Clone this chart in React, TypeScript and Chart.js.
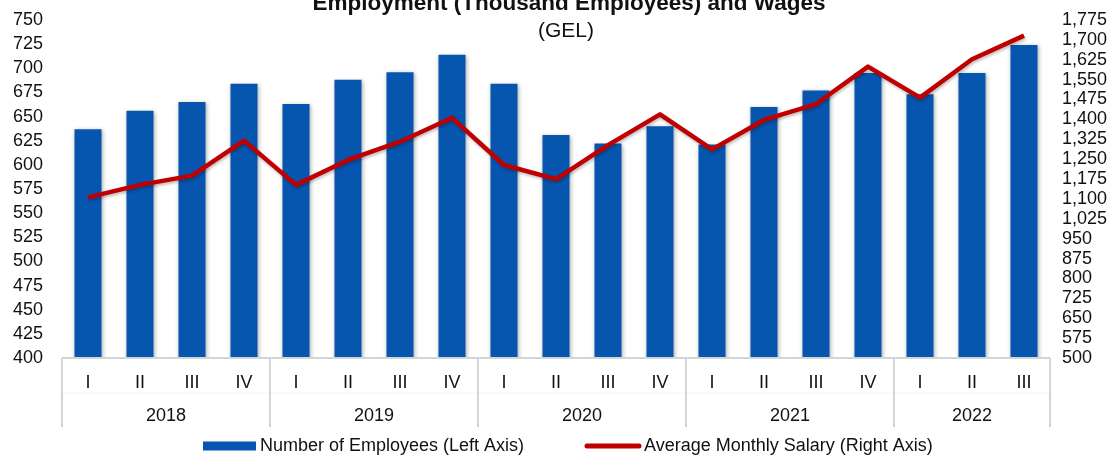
import React, { useEffect, useRef } from "react";
import { Chart, registerables } from "chart.js";

Chart.register(...registerables);

// ---- data ----
const quarterLabels = ["I", "II", "III", "IV", "I", "II", "III", "IV", "I", "II", "III", "IV", "I", "II", "III", "IV", "I", "II", "III"];
const yearLabels = ["2018", "2019", "2020", "2021", "2022"];
const quartersPerYear = [4, 4, 4, 4, 3];
const employees = [637, 656, 665, 684, 663, 688, 696, 714, 684, 631, 622, 640, 621, 660, 677, 695, 673, 695, 724];
const salary = [1106, 1153, 1188, 1320, 1153, 1247, 1316, 1406, 1228, 1175, 1303, 1419, 1287, 1398, 1458, 1599, 1482, 1627, 1716];
const leftAxis = [400, 750, 25];
const rightAxis = [500, 1775, 75];
const titleText = "Employment (Thousand Employees) and Wages";
const subtitleText = "(GEL)";
const barName = "Number of Employees (Left Axis)";
const lineName = "Average Monthly Salary (Right Axis)";

const FONT = "'Liberation Sans', Arial, sans-serif";
const BLUE = "#0656B0";
const RED = "#C00000";
const TEXT = "#111111";

export default function App() {
  const ref = useRef<HTMLCanvasElement>(null);

  useEffect(() => {
    if (!ref.current) return;

    const shadowPlugin = {
      id: "shadow",
      beforeDatasetDraw(chart: any, args: any) {
        const ctx = chart.ctx;
        ctx.save();
        if (args.meta.type === "bar") {
          ctx.shadowColor = "rgba(0,0,0,0.30)";
          ctx.shadowBlur = 4;
          ctx.shadowOffsetX = 1;
          ctx.shadowOffsetY = 1;
        } else {
          ctx.shadowColor = "rgba(0,0,0,0.25)";
          ctx.shadowBlur = 3;
          ctx.shadowOffsetX = 1;
          ctx.shadowOffsetY = 2;
        }
      },
      afterDatasetDraw(chart: any) {
        chart.ctx.restore();
      },
    };

    const decorPlugin = {
      id: "decor",
      afterDraw(chart: any) {
        const { ctx, chartArea, scales } = chart;
        const x = scales.x;
        const step = x.getPixelForValue(1) - x.getPixelForValue(0);
        const bottom = chartArea.bottom;
        const boxDepth = 69;
        ctx.save();
        // category frame
        ctx.strokeStyle = "#d4d4d4";
        ctx.lineWidth = 2;
        ctx.beginPath();
        ctx.moveTo(chartArea.left, bottom);
        ctx.lineTo(chartArea.right, bottom);
        let idx = 0;
        const bounds: number[] = [x.getPixelForValue(0) - step / 2];
        quartersPerYear.forEach((n) => {
          idx += n;
          bounds.push(x.getPixelForValue(idx - 1) + step / 2);
        });
        bounds.forEach((b) => {
          ctx.moveTo(b, bottom);
          ctx.lineTo(b, bottom + boxDepth);
        });
        ctx.stroke();
        ctx.strokeStyle = "rgba(0,0,0,0.05)";
        ctx.lineWidth = 1;
        ctx.beginPath();
        ctx.moveTo(chartArea.left, bottom + 35);
        ctx.lineTo(chartArea.right, bottom + 35);
        ctx.stroke();
        // year labels
        ctx.fillStyle = TEXT;
        ctx.font = `18px ${FONT}`;
        ctx.textAlign = "center";
        ctx.textBaseline = "middle";
        yearLabels.forEach((y, i) => {
          ctx.fillText(y, (bounds[i] + bounds[i + 1]) / 2, bottom + 58);
        });
        // title
        ctx.font = `bold 22.5px ${FONT}`;
        ctx.textBaseline = "alphabetic";
        ctx.fillText(titleText, 569, 10);
        ctx.font = `21px ${FONT}`;
        ctx.textBaseline = "middle";
        ctx.fillText(subtitleText, 566, 31);
        // legend
        const ly = 446;
        ctx.fillStyle = BLUE;
        ctx.fillRect(203, ly - 4.5, 53, 9);
        ctx.fillStyle = TEXT;
        ctx.font = `18px ${FONT}`;
        ctx.textAlign = "left";
        ctx.fillText(barName, 260, ly);
        ctx.strokeStyle = RED;
        ctx.lineWidth = 5;
        ctx.lineCap = "round";
        ctx.beginPath();
        ctx.moveTo(587, ly);
        ctx.lineTo(639, ly);
        ctx.stroke();
        ctx.fillText(lineName, 644, ly);
        ctx.restore();
      },
    };

    const noVPad = (scale: any, width: number) => {
      scale.width = width;
      scale.paddingTop = 0;
      scale.paddingBottom = 0;
    };

    const chart = new Chart(ref.current, {
      type: "bar",
      data: {
        labels: quarterLabels,
        datasets: [
          {
            type: "line",
            label: lineName,
            data: salary,
            yAxisID: "y1",
            borderColor: RED,
            backgroundColor: RED,
            borderWidth: 4.5,
            pointRadius: 0,
            tension: 0,
            borderJoinStyle: "round",
            order: 0,
          } as any,
          {
            type: "bar",
            label: barName,
            data: employees,
            yAxisID: "y",
            backgroundColor: BLUE,
            borderWidth: 0,
            categoryPercentage: 1,
            barPercentage: 0.52,
            order: 1,
          },
        ],
      },
      options: {
        responsive: false,
        animation: false,
        layout: { padding: { top: 20, left: 0, right: 0, bottom: 0 } },
        plugins: {
          legend: { display: false },
          title: { display: false },
          tooltip: { enabled: false },
        },
        scales: {
          x: {
            grid: { display: false, drawTicks: false },
            border: { display: false },
            ticks: {
              color: TEXT,
              font: { family: FONT, size: 18 },
              padding: 14,
              autoSkip: false,
              maxRotation: 0,
            },
            afterFit(scale: any) {
              scale.height = 98;
            },
          },
          y: {
            position: "left",
            min: leftAxis[0],
            max: leftAxis[1],
            grid: { display: false, drawTicks: false },
            border: { display: false },
            ticks: {
              stepSize: leftAxis[2],
              autoSkip: false,
              color: TEXT,
              font: { family: FONT, size: 18 },
              padding: 19,
            },
            afterFit(scale: any) {
              noVPad(scale, 62);
            },
          },
          y1: {
            position: "right",
            min: rightAxis[0],
            max: rightAxis[1],
            grid: { display: false, drawTicks: false },
            border: { display: false },
            ticks: {
              stepSize: rightAxis[2],
              autoSkip: false,
              color: TEXT,
              font: { family: FONT, size: 18 },
              padding: 12,
              callback: (v: any) => Number(v).toLocaleString("en-US"),
            },
            afterFit(scale: any) {
              noVPad(scale, 60);
            },
          },
        },
      },
      plugins: [shadowPlugin, decorPlugin],
    });

    return () => chart.destroy();
  }, []);

  return (
    <div style={{ position: "absolute", left: 0, top: 0, width: 1110, height: 456 }}>
      <canvas ref={ref} width={1110} height={456} />
    </div>
  );
}
